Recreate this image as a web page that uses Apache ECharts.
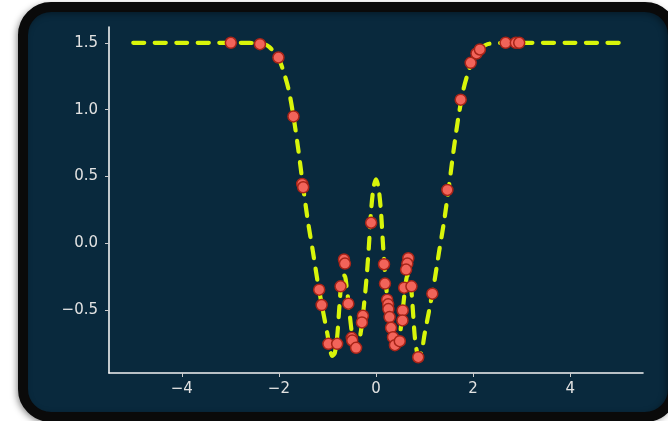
<!DOCTYPE html>
<html>
<head>
<meta charset="utf-8">
<script src="https://cdn.jsdelivr.net/npm/echarts@6/dist/echarts.min.js"></script>
<style>
html,body{margin:0;padding:0;background:#ffffff;}
#chart{width:668px;height:421px;}
</style>
</head>
<body>
<div id="chart"></div>
<script>
// Curve
const curveX = [-5, -4, -3, -2.6, -2.4, -2.3, -2.2, -2.1, -2.0, -1.9, -1.8, -1.7, -1.6, -1.5, -1.4, -1.3, -1.2, -1.1, -1.0,
  -0.95, -0.9, -0.85, -0.8, -0.75, -0.7, -0.65, -0.6, -0.55, -0.5, -0.45, -0.4, -0.35, -0.3, -0.25, -0.2, -0.15, -0.1, -0.05,
  0, 0.05, 0.1, 0.15, 0.2, 0.25, 0.3, 0.35, 0.4, 0.45, 0.5, 0.55, 0.6, 0.65, 0.7, 0.75, 0.8, 0.85, 0.9, 0.95,
  1.0, 1.1, 1.2, 1.3, 1.4, 1.5, 1.6, 1.7, 1.8, 1.9, 2.0, 2.1, 2.2, 2.3, 2.4, 2.6, 3, 4, 5];
const curveY = [1.5, 1.5, 1.5, 1.499, 1.495, 1.49, 1.47, 1.43, 1.38, 1.28, 1.15, 0.95, 0.70, 0.42, 0.16, -0.06, -0.29, -0.49, -0.68,
  -0.79, -0.84, -0.82, -0.70, -0.45, -0.25, -0.24, -0.34, -0.50, -0.66, -0.75, -0.77, -0.73, -0.63, -0.47, -0.28, -0.04, 0.25, 0.42,
  0.48, 0.42, 0.25, -0.04, -0.28, -0.47, -0.63, -0.73, -0.77, -0.75, -0.66, -0.50, -0.34, -0.24, -0.25, -0.45, -0.70, -0.82, -0.84, -0.79,
  -0.68, -0.49, -0.29, -0.06, 0.16, 0.42, 0.70, 0.95, 1.15, 1.28, 1.38, 1.43, 1.47, 1.49, 1.495, 1.499, 1.5, 1.5, 1.5];

// Samples
const sampleX = [-2.99, -2.39, -2.01, -1.70, -1.52, -1.50, -1.17, -1.12, -0.98, -0.80, -0.66, -0.64, -0.73, -0.57, -0.50, -0.49,
  -0.41, -0.27, -0.29, -0.10, 0.165, 0.185, 0.23, 0.25, 0.255, 0.28, 0.31, 0.35, 0.39, 0.49, 0.55, 0.545, 0.665, 0.645, 0.62,
  0.58, 0.73, 0.87, 1.16, 1.47, 1.745, 1.95, 2.07, 2.14, 2.67, 2.88, 2.95];
const sampleY = [1.50, 1.49, 1.39, 0.95, 0.445, 0.42, -0.345, -0.46, -0.75, -0.75, -0.12, -0.15, -0.32, -0.45, -0.705, -0.725,
  -0.78, -0.54, -0.59, 0.155, -0.155, -0.30, -0.42, -0.455, -0.49, -0.55, -0.63, -0.70, -0.76, -0.73, -0.50, -0.575, -0.11, -0.15, -0.195,
  -0.33, -0.32, -0.85, -0.375, 0.40, 1.075, 1.35, 1.42, 1.45, 1.50, 1.50, 1.50];

// Axes
const xTicks = [-4, -2, 0, 2, 4];
const yTicks = [-0.5, 0.0, 0.5, 1.0, 1.5];
const xRange = [-5.5, 5.5];
const yRange = [-0.968, 1.618];

const curveData = curveX.map((x, i) => [x, curveY[i]]);
const sampleData = sampleX.map((x, i) => [x, sampleY[i]]);
const minus = s => String(s).replace('-', '\u2212');

const chart = echarts.init(document.getElementById('chart'), null, {renderer: 'canvas'});
const axisText = {color: '#e2e2e2', fontFamily: 'DejaVu Sans', fontSize: 15};

chart.setOption({
  backgroundColor: 'transparent',
  animation: false,
  graphic: [{
    type: 'rect',
    z: -10,
    silent: true,
    shape: {x: 23, y: 7, width: 650, height: 410, r: 28},
    style: {fill: '#09293d', stroke: '#0a0a0a', lineWidth: 10,
      shadowBlur: 6, shadowColor: 'rgba(0,0,0,0.35)', shadowOffsetX: -2, shadowOffsetY: 2}
  }],
  grid: {left: 109, right: 25, top: 27, bottom: 48, containLabel: false},
  xAxis: {
    type: 'value', min: xRange[0], max: xRange[1],
    splitLine: {show: false},
    axisLine: {show: true, onZero: false, lineStyle: {color: '#f2f2f2', width: 1.6}},
    axisTick: {show: true, customValues: xTicks, length: 4, lineStyle: {color: '#cccccc', width: 1}},
    axisLabel: Object.assign({customValues: xTicks, margin: 9, formatter: v => minus(v)}, axisText)
  },
  yAxis: {
    type: 'value', min: yRange[0], max: yRange[1],
    splitLine: {show: false},
    axisLine: {show: true, onZero: false, lineStyle: {color: '#f2f2f2', width: 1.6}},
    axisTick: {show: true, customValues: yTicks, length: 4, lineStyle: {color: '#cccccc', width: 1}},
    axisLabel: Object.assign({customValues: yTicks, margin: 11, formatter: v => minus(Number(v).toFixed(1))}, axisText)
  },
  series: [{
    type: 'line',
    data: curveData,
    showSymbol: false,
    smooth: 0.3,
    z: 2,
    lineStyle: {color: '#d8f50a', width: 4.2, type: [11, 10.5], cap: 'round', join: 'round'}
  }, {
    type: 'scatter',
    data: sampleData,
    symbolSize: 11,
    z: 3,
    itemStyle: {color: '#f2645a', borderColor: '#a82418', borderWidth: 1.5, opacity: 1}
  }]
});
</script>
</body>
</html>
